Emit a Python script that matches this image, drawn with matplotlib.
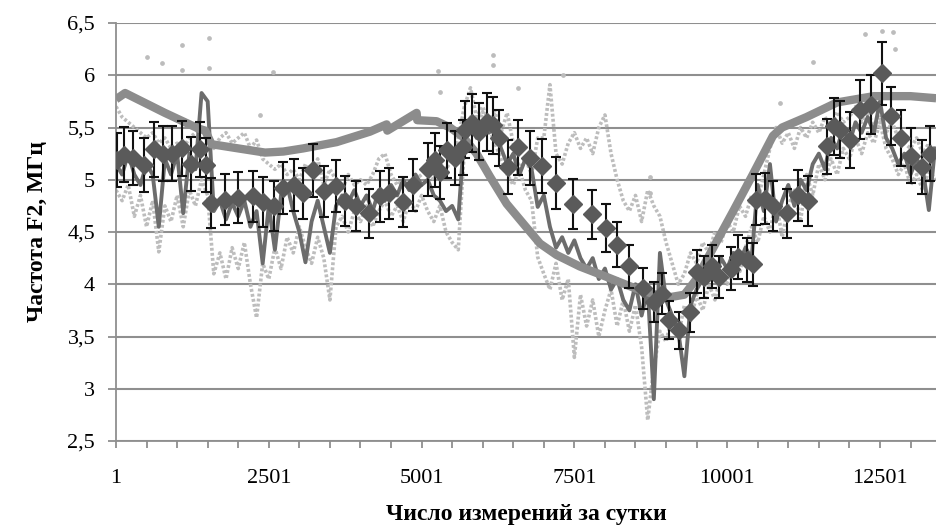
import numpy as np
import matplotlib.pyplot as plt

plt.rcParams['font.family'] = ['Liberation Serif', 'DejaVu Serif']

# --- data ---
# noisy series sampled every 100 measurements, starting at 1
step_x = np.arange(1, 13402, 100)

medium = [
    5.15, 5.05, 5.25, 5.05, 4.95, 5.15, 5.05, 4.55, 5.20, 5.05,
    5.25, 4.68, 5.25, 5.10, 5.83, 5.75, 4.70, 4.80, 4.62, 4.78,
    4.65, 4.80, 4.55, 4.70, 4.20, 4.75, 4.33, 4.85, 4.95, 4.70,
    4.50, 4.21, 4.60, 4.80, 4.55, 4.30, 4.75, 4.85, 4.78, 4.90,
    4.75, 4.85, 4.70, 4.90, 4.80, 4.95, 4.85, 5.00, 4.90, 5.05,
    4.95, 5.00, 4.85, 4.80, 4.70, 4.75, 4.62, 5.45, 5.55, 5.40,
    5.55, 5.45, 5.50, 5.30, 5.15, 5.25, 5.05, 5.20, 5.10, 4.74,
    4.85, 4.55, 4.35, 4.45, 4.30, 4.42, 4.25, 4.15, 4.25, 4.05,
    4.15, 3.95, 4.05, 3.85, 3.75, 4.00, 3.70, 3.95, 2.90, 4.30,
    3.85, 3.70, 3.55, 3.12, 3.80, 3.95, 4.05, 4.15, 4.05, 4.25,
    4.15, 4.30, 4.20, 4.35, 4.25, 4.95, 4.70, 5.15, 4.60, 4.80,
    4.95, 4.75, 5.00, 4.90, 5.15, 5.25, 5.10, 5.40, 5.30, 5.50,
    5.35, 5.55, 5.45, 5.60, 5.45, 5.75, 5.40, 5.30, 5.15, 5.25,
    5.05, 5.20, 5.10, 4.71, 5.30,
]

light_lo = [
    4.90, 4.80, 4.95, 4.65, 4.85, 4.55, 4.80, 4.31, 4.75, 4.60,
    4.85, 4.55, 4.90, 4.75, 5.00, 4.85, 4.10, 4.30, 4.05, 4.35,
    4.15, 4.40, 4.00, 3.68, 4.20, 4.05, 4.35, 4.15, 4.45, 4.30,
    4.55, 4.35, 4.20, 4.45, 4.25, 3.85, 4.55, 4.65, 4.50, 4.70,
    4.60, 4.75, 4.55, 4.70, 4.80, 4.65, 4.75, 4.60, 4.80, 4.70,
    4.85, 4.70, 4.60, 4.75, 4.50, 4.40, 4.33, 5.30, 5.60, 5.45,
    5.65, 5.50, 5.35, 5.20, 5.05, 4.95, 5.10, 4.90, 4.80, 4.26,
    4.10, 3.95, 4.20, 3.85, 4.05, 3.30, 3.90, 3.60, 3.85, 3.50,
    3.75, 3.95, 3.60, 3.85, 3.55, 3.80, 3.40, 2.70, 3.20, 3.55,
    3.45, 3.70, 3.50, 3.80, 3.65, 3.90, 3.75, 4.00, 3.85, 4.10,
    4.00, 4.25, 4.10, 4.35, 4.55, 4.40, 4.65, 4.50, 4.80, 4.45,
    4.75, 4.90, 4.60, 5.05, 4.85, 5.15, 5.00, 5.20, 5.05, 5.30,
    5.20, 5.40, 5.25, 5.45, 5.35, 5.55, 5.30, 5.20, 5.05, 5.15,
    4.95, 5.05, 4.90, 5.10, 5.00,
]

light_hi = [
    5.70, 5.60, 5.55, 5.50, 5.45, 5.40, 5.45, 5.35, 5.40, 5.30,
    5.35, 5.30, 5.40, 5.45, 5.50, 5.40, 5.30, 5.40, 5.45, 5.35,
    5.40, 5.45, 5.30, 5.38, 5.20, 5.15, 5.10, 5.15, 5.05, 5.10,
    5.00, 5.15, 5.05, 5.20, 4.95, 5.10, 5.00, 4.90, 5.05, 4.95,
    5.00, 4.95, 5.05, 5.20, 5.25, 5.05, 4.95, 5.00, 4.90, 5.00,
    5.05, 5.10, 5.00, 5.15, 5.10, 5.20, 5.40, 5.70, 5.88, 5.60,
    5.70, 5.55, 5.65, 5.45, 5.64, 5.35, 5.10, 5.20, 5.05, 5.40,
    5.40, 5.91, 5.25, 5.15, 5.35, 5.45, 5.30, 5.40, 5.25, 5.50,
    5.62, 5.25, 5.00, 4.80, 4.70, 4.85, 4.60, 4.90, 4.75, 4.65,
    4.40, 4.20, 4.00, 4.10, 4.30, 4.20, 4.40, 4.30, 4.50, 4.40,
    4.60, 4.50, 4.75, 4.65, 4.85, 4.80, 5.05, 5.30, 5.50, 5.35,
    5.45, 5.30, 5.50, 5.40, 5.55, 5.45, 5.60, 5.50, 5.65, 5.55,
    5.60, 5.70, 5.55, 5.65, 5.50, 5.60, 5.45, 5.55, 5.40, 5.35,
    5.30, 5.40, 5.25, 5.35, 5.20,
]

# isolated light points
dots_x = [505, 751, 1080, 1080, 1521, 1521, 2357, 2570, 5270, 5300,
          6170, 6170, 6580, 7315, 8740, 8740, 10860, 11400, 12255, 12530,
          12715, 12750]
dots_y = [6.17, 6.12, 6.29, 6.05, 6.36, 6.07, 5.62, 6.03, 6.04, 5.84,
          6.19, 6.10, 5.88, 6.00, 5.03, 4.87, 5.73, 6.13, 6.39, 6.42,
          6.41, 6.25]

# smooth model curve
model_x = [1, 150, 800, 1350, 1460, 1565, 2000, 2440, 2740, 3065,
           3610, 4155, 4430, 4440, 4920, 4930, 5247, 5466, 5680, 5900,
           6120, 6393, 6665, 6938, 7210, 7590, 8030, 8500, 9000, 9300,
           9500, 9747, 10100, 10420, 10750, 10900, 11300, 11800, 12400,
           13000, 13420]
model_y = [5.77, 5.83, 5.64, 5.49, 5.47, 5.34, 5.30, 5.26, 5.27, 5.30,
           5.36, 5.46, 5.53, 5.47, 5.64, 5.57, 5.56, 5.50, 5.41, 5.25,
           5.03, 4.77, 4.58, 4.39, 4.28, 4.17, 4.07, 3.96, 3.87, 3.90,
           4.05, 4.32, 4.70, 5.05, 5.42, 5.50, 5.60, 5.74, 5.80,
           5.80, 5.78]

# averaged points with error bars
avg_x = [10, 132, 284, 464, 623, 765, 912, 1086, 1228, 1380, 1480,
         1555, 1790, 2002, 2250, 2400, 2580, 2738, 2913, 3065, 3229,
         3409, 3595, 3747, 3927, 4145, 4320, 4472, 4691, 4855, 5100,
         5220, 5310, 5420, 5548, 5673, 5711, 5820, 5945, 6066, 6164,
         6272, 6419, 6583, 6774, 6966, 7200, 7473, 7784, 8020, 8200,
         8399, 8628, 8808, 8929, 9053, 9212, 9392, 9501, 9621, 9747,
         9871, 10058, 10182, 10320, 10428, 10472, 10620, 10755, 10974,
         11164, 11327, 11628, 11748, 11846, 12010, 12173, 12348, 12528,
         12680, 12839, 13002, 13182, 13318]
avg_y = [5.19, 5.24, 5.21, 5.14, 5.29, 5.25, 5.25, 5.30, 5.15, 5.29, 5.14,
         4.78, 4.81, 4.83, 4.84, 4.79, 4.75, 4.92, 4.95, 4.87, 5.09,
         4.89, 4.94, 4.80, 4.75, 4.68, 4.84, 4.87, 4.79, 4.95, 5.10,
         5.19, 5.07, 5.28, 5.21, 5.31, 5.48, 5.54, 5.46, 5.55, 5.52,
         5.40, 5.12, 5.31, 5.21, 5.13, 4.97, 4.77, 4.67, 4.54, 4.38,
         4.17, 3.96, 3.83, 3.91, 3.66, 3.56, 3.73, 4.12, 4.07, 4.17,
         4.07, 4.15, 4.26, 4.23, 4.19, 4.81, 4.82, 4.75, 4.68,
         4.85, 4.80, 5.32, 5.51, 5.48, 5.38, 5.67, 5.72, 6.02,
         5.61, 5.40, 5.23, 5.12, 5.25]
err_pct = 5  # percentage error bars

x_labels = ['1', '2501', '5001', '7501', '10001', '12501']

# --- figure ---
fig = plt.figure(figsize=(9.36, 5.28), dpi=100)
ax = fig.add_axes([116 / 936, 1 - 441 / 528, 1 - 116 / 936, 418 / 528])

dot_style = dict(color='#bdbdbd', lw=2.6, ls=(0, (0.8, 0.6)))
ax.plot(step_x, light_lo, **dot_style, zorder=2)
ax.plot(step_x, light_hi, **dot_style, zorder=2)
ax.plot(dots_x, dots_y, 'o', color='#bcbcbc', ms=2.4, zorder=2)
ax.plot(step_x, medium, color='#6c6c6c', lw=2.8, zorder=3)
ax.plot(model_x, model_y, color='#8c8c8c', lw=6, solid_capstyle='butt', zorder=4)

avg_y = np.array(avg_y)
ax.errorbar(avg_x, avg_y, yerr=avg_y * err_pct / 100, fmt='D', color='#5a5a5a',
            ms=9.5, ecolor='#111111', elinewidth=1.5, capsize=3.5, capthick=1.5,
            zorder=5)

ax.set_xlim(1, 13418)
ax.set_ylim(2.5, 6.5)

yt = np.arange(2.5, 6.51, 0.5)
ax.set_yticks(yt)
ax.set_yticklabels([f'{v:g}'.replace('.', ',') for v in yt], fontsize=16)
ax.yaxis.grid(True, color='#8f8f8f', lw=1.5)
ax.set_axisbelow(True)

xt = np.arange(1, 13418, 500)
ax.set_xticks(xt)
ax.set_xticklabels([x_labels[i // 5] if i % 5 == 0 else '' for i in range(len(xt))],
                   fontsize=16)

ax.tick_params(axis='y', direction='out', length=6, width=1.3, color='#8f8f8f', pad=9)
ax.tick_params(axis='x', direction='out', length=5, width=1.3, color='#8f8f8f', pad=15)

for side in ['top', 'right']:
    ax.spines[side].set_visible(False)
for side in ['left', 'bottom']:
    ax.spines[side].set_color('#8f8f8f')
    ax.spines[side].set_linewidth(1.3)

ax.set_xlabel('Число измерений за сутки', fontsize=17, fontweight='bold', labelpad=12)
ax.set_ylabel('Частота F2, МГц', fontsize=17, fontweight='bold', labelpad=14)

plt.savefig('out.png', dpi=100)
